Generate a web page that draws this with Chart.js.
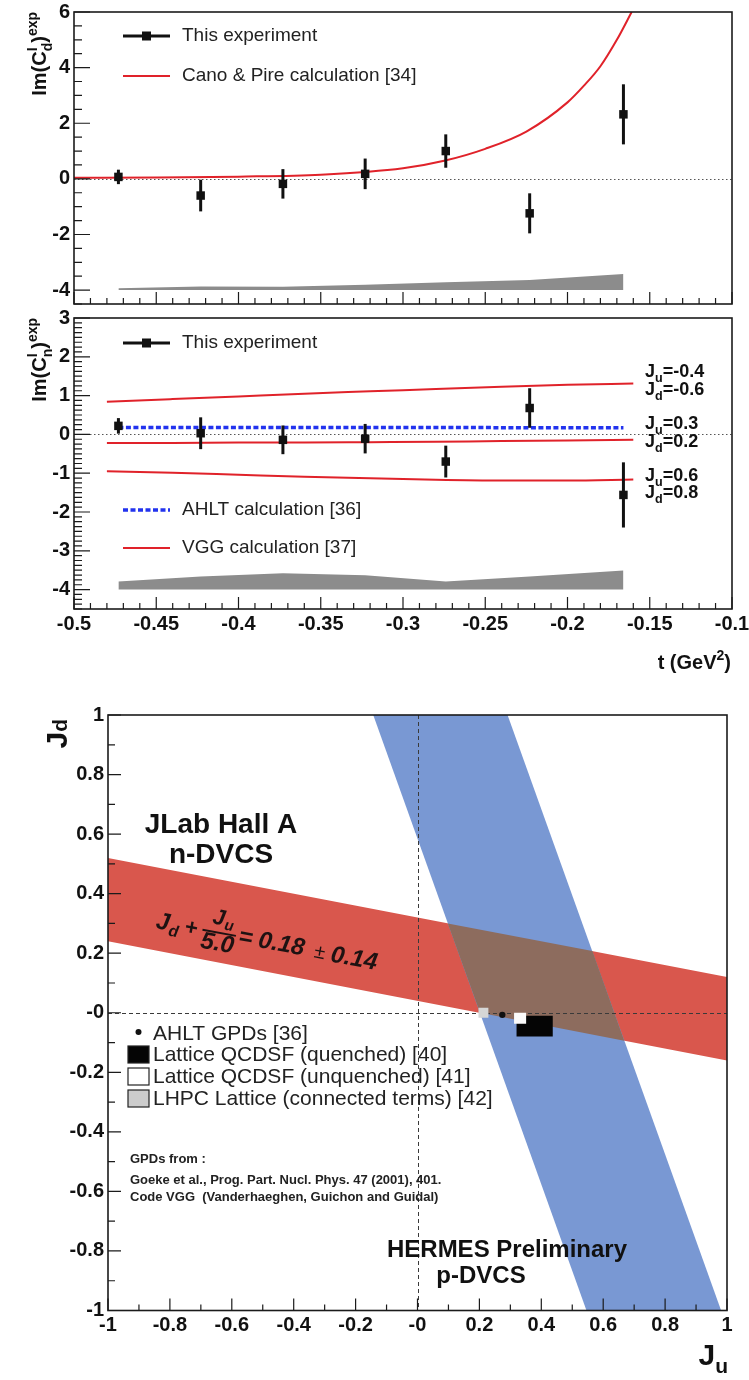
<!DOCTYPE html>
<html>
<head>
<meta charset="utf-8">
<script src="https://cdn.jsdelivr.net/npm/chart.js@4.4.0/dist/chart.umd.min.js"></script>
<style>
  html, body { margin: 0; padding: 0; background: #fff; }
  #wrap { position: relative; width: 749px; height: 1380px; overflow: hidden; }
  #wrap canvas { position: absolute; left: 0; }
</style>
</head>
<body>
<div id="wrap">
  <canvas id="cd" width="749" height="312" style="top:0px"></canvas>
  <canvas id="cn" width="749" height="404" style="top:296px"></canvas>
  <canvas id="jj" width="749" height="690" style="top:690px"></canvas>
</div>
<script>
// ---- data ----
// t bins (GeV^2), shared by both asymmetry panels
const tBins = [-0.473, -0.423, -0.373, -0.323, -0.274, -0.223, -0.166];

// deuteron Im(C_d^I)
const cdVal = [0.07, -0.60, -0.18, 0.18, 1.00, -1.24, 2.32];
const cdErr = [0.26, 0.57, 0.53, 0.55, 0.60, 0.72, 1.08];
const cdSyst = [-3.93, -3.87, -3.88, -3.81, -3.72, -3.64, -3.42];
const canoT = [-0.50, -0.45, -0.40, -0.35, -0.30, -0.275, -0.25, -0.225, -0.20, -0.19, -0.18, -0.17, -0.161];
const canoVal = [0.04, 0.05, 0.08, 0.15, 0.38, 0.65, 1.08, 1.70, 2.75, 3.35, 4.05, 5.00, 6.00];

// neutron Im(C_n^I)
const cnVal = [0.22, 0.03, -0.14, -0.11, -0.70, 0.68, -1.56];
const cnErr = [0.20, 0.41, 0.37, 0.38, 0.41, 0.51, 0.84];
const cnSyst = [-3.79, -3.66, -3.58, -3.63, -3.79, -3.66, -3.51];
const ahltVal = [0.18, 0.18, 0.18, 0.18, 0.18, 0.17, 0.17];
const vggT = [-0.48, -0.44, -0.40, -0.36, -0.32, -0.28, -0.24, -0.20, -0.16];
const vggA = [0.84, 0.91, 0.98, 1.05, 1.11, 1.17, 1.23, 1.28, 1.31];          // Ju=-0.4 Jd=-0.6
const vggB = [-0.22, -0.22, -0.21, -0.21, -0.20, -0.19, -0.17, -0.16, -0.14]; // Ju=0.3 Jd=0.2
const vggC = [-0.95, -0.99, -1.04, -1.09, -1.13, -1.17, -1.19, -1.19, -1.16]; // Ju=0.6 Jd=0.8

// Ju - Jd plane
const redBandJu = [-1, 1, 1, -1];
const redBandJd = [0.52, 0.12, -0.16, 0.24];
const hermesJu = [-0.143, 0.291, 0.981, 0.546];
const hermesJd = [1, 1, -1, -1];
const overlapJu = [0.098, 0.565, 0.668, 0.202];
const overlapJd = [0.300, 0.207, -0.094, 0.000];
const qcdsfQJu = [0.320, 0.437, 0.437, 0.320];
const qcdsfQJd = [-0.010, -0.010, -0.080, -0.080];
const qcdsfUJu = [0.312, 0.351, 0.351, 0.312];
const qcdsfUJd = [0.000, 0.000, -0.037, -0.037];
const lhpcJu = [0.213];
const lhpcJd = [0.0];
const ahltJu = [0.274];
const ahltJd = [-0.007];

// tick labels
const tTicks = [-0.5, -0.45, -0.4, -0.35, -0.3, -0.25, -0.2, -0.15, -0.1];
const tTickLabels = ['-0.5', '-0.45', '-0.4', '-0.35', '-0.3', '-0.25', '-0.2', '-0.15', '-0.1'];
const cdTicks = [-4, -2, 0, 2, 4, 6];
const cnTicks = [-4, -3, -2, -1, 0, 1, 2, 3];
const jTicks = [-1, -0.8, -0.6, -0.4, -0.2, 0, 0.2, 0.4, 0.6, 0.8, 1];
const jTickLabels = ['-1', '-0.8', '-0.6', '-0.4', '-0.2', '-0', '0.2', '0.4', '0.6', '0.8', '1'];

// ---- helpers ----
const FONT = '"Liberation Sans", Arial, Helvetica, sans-serif';
Chart.defaults.font.family = FONT;
Chart.defaults.color = '#111';

function pts(xs, ys) { return xs.map((x, i) => ({x: x, y: ys[i]})); }
function range(a, b, step) {
  const out = [];
  const n = Math.round((b - a) / step);
  for (let i = 0; i <= n; i++) out.push(+(a + i * step).toFixed(5));
  return out;
}

function drawRich(ctx, it) {
  const size = it.size;
  const subDy = it.subDy !== undefined ? it.subDy : 0.3;
  const fontFor = p => `${it.style || 'normal'} ${it.weight || 'bold'} ${p.s ? size * 0.7 : size}px ${FONT}`;
  let w = 0, pend = 0;
  for (const p of it.parts) {
    ctx.font = fontFor(p);
    const pw = ctx.measureText(p.t).width;
    if (p.stack) pend = pw; else { w += Math.max(pw, pend); pend = 0; }
  }
  ctx.save();
  ctx.translate(it.x, it.y);
  if (it.rot) ctx.rotate(it.rot * Math.PI / 180);
  ctx.fillStyle = it.color || '#111';
  ctx.textBaseline = 'alphabetic';
  ctx.textAlign = 'left';
  let cx = it.align === 'right' ? -w : it.align === 'center' ? -w / 2 : 0;
  pend = 0;
  for (const p of it.parts) {
    ctx.font = fontFor(p);
    const pw = ctx.measureText(p.t).width;
    const dy = p.s === 'sub' ? size * subDy : p.s === 'sup' ? -size * 0.45 : 0;
    ctx.fillText(p.t, cx, dy);
    if (p.stack) pend = pw; else { cx += Math.max(pw, pend); pend = 0; }
  }
  ctx.restore();
}

function drawPieces(ctx, g) {
  ctx.save();
  ctx.translate(g.x, g.y);
  ctx.rotate(g.rot * Math.PI / 180);
  ctx.fillStyle = g.color;
  ctx.strokeStyle = g.color;
  ctx.textBaseline = 'alphabetic';
  for (const p of g.items) {
    ctx.font = `${p.style || 'italic'} ${p.weight || 'bold'} ${p.size}px ${FONT}`;
    ctx.textAlign = p.align || 'left';
    ctx.fillText(p.t, p.x, p.y);
  }
  ctx.lineWidth = g.bar.w;
  ctx.beginPath();
  ctx.moveTo(g.bar.x0, g.bar.y);
  ctx.lineTo(g.bar.x1, g.bar.y);
  ctx.stroke();
  ctx.restore();
}

function drawRefs(chart, c) {
  const {ctx, chartArea: a, scales: {x, y}} = chart;
  ctx.save();
  ctx.beginPath();
  ctx.rect(a.left, a.top, a.right - a.left, a.bottom - a.top);
  ctx.clip();
  ctx.strokeStyle = c.refColor;
  ctx.lineWidth = 1;
  ctx.setLineDash(c.refDash);
  (c.refY || []).forEach(v => {
    const p = Math.round(y.getPixelForValue(v)) + 0.5;
    ctx.beginPath(); ctx.moveTo(a.left, p); ctx.lineTo(a.right, p); ctx.stroke();
  });
  (c.refX || []).forEach(v => {
    const p = Math.round(x.getPixelForValue(v)) + 0.5;
    ctx.beginPath(); ctx.moveTo(p, a.top); ctx.lineTo(p, a.bottom); ctx.stroke();
  });
  ctx.restore();
}

function drawErrors(chart, e) {
  const {ctx, scales: {x, y}} = chart;
  ctx.save();
  ctx.strokeStyle = '#111';
  ctx.lineWidth = 3;
  e.xs.forEach((xv, i) => {
    const px = x.getPixelForValue(xv);
    ctx.beginPath();
    ctx.moveTo(px, y.getPixelForValue(e.ys[i] - e.errs[i]));
    ctx.lineTo(px, y.getPixelForValue(e.ys[i] + e.errs[i]));
    ctx.stroke();
  });
  ctx.restore();
}

function drawAxes(chart, ax) {
  const {ctx, chartArea: a, scales: {x, y}} = chart;
  ctx.save();
  ctx.strokeStyle = '#1b1b1b';
  ctx.lineWidth = 1.2;
  ctx.beginPath();
  ax.xMinor.forEach(v => { const p = x.getPixelForValue(v); ctx.moveTo(p, a.bottom); ctx.lineTo(p, a.bottom - ax.xLen[1]); });
  ax.xMajor.forEach(v => { const p = x.getPixelForValue(v); ctx.moveTo(p, a.bottom); ctx.lineTo(p, a.bottom - ax.xLen[0]); });
  ax.yMinor.forEach(v => { const p = y.getPixelForValue(v); ctx.moveTo(a.left, p); ctx.lineTo(a.left + ax.yLen[1], p); });
  ax.yMajor.forEach(v => { const p = y.getPixelForValue(v); ctx.moveTo(a.left, p); ctx.lineTo(a.left + ax.yLen[0], p); });
  ctx.stroke();
  ctx.lineWidth = 1.6;
  ctx.strokeRect(a.left, a.top, a.right - a.left, a.bottom - a.top);
  ctx.restore();
}

function drawLegendItem(ctx, it) {
  ctx.save();
  if (it.kind === 'exp') {
    ctx.strokeStyle = '#111'; ctx.lineWidth = 3;
    ctx.beginPath(); ctx.moveTo(it.x, it.y); ctx.lineTo(it.x + 47, it.y); ctx.stroke();
    ctx.fillStyle = '#111'; ctx.fillRect(it.x + 19, it.y - 4.5, 9, 9);
  } else if (it.kind === 'line') {
    ctx.strokeStyle = it.color; ctx.lineWidth = it.width || 2;
    ctx.setLineDash(it.dash || []);
    ctx.beginPath(); ctx.moveTo(it.x, it.y); ctx.lineTo(it.x + 47, it.y); ctx.stroke();
  } else if (it.kind === 'dot') {
    ctx.fillStyle = '#111';
    ctx.beginPath(); ctx.arc(it.x, it.y, 3, 0, Math.PI * 2); ctx.fill();
  } else if (it.kind === 'box') {
    ctx.fillStyle = it.fill; ctx.fillRect(it.x, it.y, 21, 17);
    ctx.strokeStyle = '#222'; ctx.lineWidth = 1.2; ctx.strokeRect(it.x, it.y, 21, 17);
  }
  ctx.fillStyle = '#222';
  ctx.font = `${it.size}px ${FONT}`;
  ctx.textBaseline = 'middle';
  ctx.textAlign = 'left';
  ctx.fillText(it.text, it.tx, it.ty);
  ctx.restore();
}

function makeRoot(c) {
  return {
    id: 'root',
    beforeDatasetsDraw(chart) {
      chart.$refDone = false;
      if (c.refUnder) { drawRefs(chart, c); chart.$refDone = true; }
    },
    beforeDatasetDraw(chart, args) {
      const ds = chart.data.datasets[args.index];
      if (!chart.$refDone && ds.markerLayer) { drawRefs(chart, c); chart.$refDone = true; }
    },
    afterDatasetsDraw(chart) {
      if (c.errors) drawErrors(chart, c.errors);
    },
    afterDraw(chart) {
      drawAxes(chart, c.axes);
      (c.legend || []).forEach(it => drawLegendItem(chart.ctx, it));
      (c.texts || []).forEach(it => drawRich(chart.ctx, it));
      if (c.pieces) drawPieces(chart.ctx, c.pieces);
    }
  };
}

function yAxis(min, max, ticks, labels, width) {
  return {
    type: 'linear', min: min, max: max,
    grid: {display: false, drawTicks: false}, border: {display: false},
    afterBuildTicks: s => { s.ticks = ticks.map(v => ({value: v})); },
    afterFit: s => { s.width = width; s.paddingTop = 0; s.paddingBottom = 0; },
    ticks: {
      font: {size: 20, weight: 'bold'}, color: '#111', padding: 4, autoSkip: false,
      callback: (v, i) => labels ? labels[i] : String(v)
    }
  };
}
function xAxis(min, max, ticks, labels, height) {
  return {
    type: 'linear', min: min, max: max,
    grid: {display: false, drawTicks: false}, border: {display: false},
    afterBuildTicks: s => { s.ticks = ticks.map(v => ({value: v})); },
    afterFit: s => { s.height = height; s.paddingLeft = 0; s.paddingRight = 0; },
    ticks: {
      font: {size: 20, weight: 'bold'}, color: '#111', padding: 3, autoSkip: false, maxRotation: 0,
      callback: (v, i) => labels[i]
    }
  };
}
const base = { responsive: false, animation: false, events: [],
  plugins: { legend: {display: false}, tooltip: {enabled: false} } };

const RED = '#e0222a';

// ---- deuteron panel ----
new Chart(document.getElementById('cd'), {
  type: 'scatter',
  data: { datasets: [
    { data: pts(tBins, cdVal), pointStyle: 'rect', pointRadius: 6, backgroundColor: '#111', borderColor: '#111', borderWidth: 0, order: 1 },
    { data: pts(canoT, canoVal), showLine: true, borderColor: RED, borderWidth: 2, pointRadius: 0, cubicInterpolationMode: 'monotone', order: 2 },
    { data: pts(tBins, cdSyst), showLine: true, fill: {value: -4}, backgroundColor: '#8c8c8c', borderColor: 'rgba(0,0,0,0)', borderWidth: 0, pointRadius: 0, order: 5 }
  ]},
  options: Object.assign({}, base, {
    layout: { padding: {top: 12, right: 17, bottom: 8, left: 0} },
    scales: {
      x: { type: 'linear', min: -0.5, max: -0.1, display: false },
      y: yAxis(-4.5, 6, cdTicks, null, 74)
    }
  }),
  plugins: [makeRoot({
    refUnder: true, refY: [0], refDash: [1.5, 2.5], refColor: '#555',
    errors: {xs: tBins, ys: cdVal, errs: cdErr},
    axes: { xMajor: tTicks, xMinor: range(-0.5, -0.1, 0.01), xLen: [12, 6],
            yMajor: cdTicks, yMinor: range(-4.5, 6, 0.5), yLen: [16, 8] },
    legend: [
      {kind: 'exp', x: 123, y: 36, text: 'This experiment', tx: 182, ty: 36, size: 19},
      {kind: 'line', color: RED, x: 123, y: 76, text: 'Cano & Pire calculation [34]', tx: 182, ty: 76, size: 19}
    ],
    texts: [
      {x: 46, y: 12, rot: -90, align: 'right', size: 20,
       parts: [{t: 'Im(C'}, {t: 'I', s: 'sup', stack: true}, {t: 'd', s: 'sub'}, {t: ')'}, {t: 'exp', s: 'sup'}]}
    ]
  })]
});

// ---- neutron panel ----
new Chart(document.getElementById('cn'), {
  type: 'scatter',
  data: { datasets: [
    { data: pts(tBins, cnVal), pointStyle: 'rect', pointRadius: 6, backgroundColor: '#111', borderColor: '#111', borderWidth: 0, order: 1 },
    { data: pts(tBins, ahltVal), showLine: true, borderColor: '#2233ee', borderWidth: 3.5, borderDash: [5, 2.5], pointRadius: 0, order: 2 },
    { data: pts(vggT, vggA), showLine: true, borderColor: RED, borderWidth: 2, pointRadius: 0, cubicInterpolationMode: 'monotone', order: 3 },
    { data: pts(vggT, vggB), showLine: true, borderColor: RED, borderWidth: 2, pointRadius: 0, cubicInterpolationMode: 'monotone', order: 3 },
    { data: pts(vggT, vggC), showLine: true, borderColor: RED, borderWidth: 2, pointRadius: 0, cubicInterpolationMode: 'monotone', order: 3 },
    { data: pts(tBins, cnSyst), showLine: true, fill: {value: -4}, backgroundColor: '#8c8c8c', borderColor: 'rgba(0,0,0,0)', borderWidth: 0, pointRadius: 0, order: 5 }
  ]},
  options: Object.assign({}, base, {
    layout: { padding: {top: 22, right: 17, bottom: 0, left: 0} },
    scales: {
      x: xAxis(-0.5, -0.1, tTicks, tTickLabels, 91),
      y: yAxis(-4.5, 3, cnTicks, null, 74)
    }
  }),
  plugins: [makeRoot({
    refUnder: true, refY: [0], refDash: [1.5, 2.5], refColor: '#555',
    errors: {xs: tBins, ys: cnVal, errs: cnErr},
    axes: { xMajor: tTicks, xMinor: range(-0.5, -0.1, 0.01), xLen: [12, 6],
            yMajor: cnTicks, yMinor: range(-4.5, 3, 0.125), yLen: [16, 8] },
    legend: [
      {kind: 'exp', x: 123, y: 47, text: 'This experiment', tx: 182, ty: 47, size: 19},
      {kind: 'line', color: '#2233ee', width: 3.5, dash: [5, 2.5], x: 123, y: 214, text: 'AHLT calculation [36]', tx: 182, ty: 214, size: 19},
      {kind: 'line', color: RED, x: 123, y: 252, text: 'VGG calculation [37]', tx: 182, ty: 252, size: 19}
    ],
    texts: [
      {x: 46, y: 22, rot: -90, align: 'right', size: 20,
       parts: [{t: 'Im(C'}, {t: 'I', s: 'sup', stack: true}, {t: 'n', s: 'sub'}, {t: ')'}, {t: 'exp', s: 'sup'}]},
      {x: 731, y: 373, align: 'right', size: 20, parts: [{t: 't (GeV'}, {t: '2', s: 'sup'}, {t: ')'}]},
      {x: 645, y: 81, size: 18, parts: [{t: 'J'}, {t: 'u', s: 'sub'}, {t: '=-0.4'}]},
      {x: 645, y: 99, size: 18, parts: [{t: 'J'}, {t: 'd', s: 'sub'}, {t: '=-0.6'}]},
      {x: 645, y: 133, size: 18, parts: [{t: 'J'}, {t: 'u', s: 'sub'}, {t: '=0.3'}]},
      {x: 645, y: 151, size: 18, parts: [{t: 'J'}, {t: 'd', s: 'sub'}, {t: '=0.2'}]},
      {x: 645, y: 185, size: 18, parts: [{t: 'J'}, {t: 'u', s: 'sub'}, {t: '=0.6'}]},
      {x: 645, y: 202, size: 18, parts: [{t: 'J'}, {t: 'd', s: 'sub'}, {t: '=0.8'}]}
    ]
  })]
});

// ---- Ju / Jd constraint plane ----
const shape = (xs, ys, color, order) => ({
  data: pts(xs, ys), showLine: true, fill: 'shape', backgroundColor: color,
  borderColor: 'rgba(0,0,0,0)', borderWidth: 0, pointRadius: 0, order: order
});
const qBox = shape(qcdsfQJu, qcdsfQJd, '#050505', 4); qBox.markerLayer = true;
const uBox = shape(qcdsfUJu, qcdsfUJd, '#fbfbfb', 3); uBox.markerLayer = true;

new Chart(document.getElementById('jj'), {
  type: 'scatter',
  data: { datasets: [
    shape(redBandJu, redBandJd, '#d9574d', 10),
    shape(hermesJu, hermesJd, '#7998d3', 9),
    shape(overlapJu, overlapJd, '#8d6c5e', 8),
    qBox,
    uBox,
    { data: pts(lhpcJu, lhpcJd), pointStyle: 'rect', pointRadius: 7, backgroundColor: '#d6d6d6', borderWidth: 0, order: 2, markerLayer: true },
    { data: pts(ahltJu, ahltJd), pointStyle: 'circle', pointRadius: 3.2, backgroundColor: '#111', borderWidth: 0, order: 1, markerLayer: true }
  ]},
  options: Object.assign({}, base, {
    layout: { padding: {top: 25, right: 22, bottom: 0, left: 0} },
    scales: {
      x: xAxis(-1, 1, jTicks, jTickLabels, 69.5),
      y: yAxis(-1, 1, jTicks, jTickLabels, 108)
    }
  }),
  plugins: [makeRoot({
    refUnder: false, refX: [0], refY: [0], refDash: [4, 3], refColor: '#3a3a3a',
    axes: { xMajor: jTicks, xMinor: range(-1, 1, 0.1), xLen: [12, 6],
            yMajor: jTicks, yMinor: range(-1, 1, 0.1), yLen: [13, 7] },
    legend: [
      {kind: 'dot', x: 138.5, y: 342, text: 'AHLT GPDs [36]', tx: 153, ty: 344, size: 21},
      {kind: 'box', fill: '#050505', x: 128, y: 356, text: 'Lattice QCDSF (quenched) [40]', tx: 153, ty: 365, size: 21},
      {kind: 'box', fill: '#ffffff', x: 128, y: 378, text: 'Lattice QCDSF (unquenched) [41]', tx: 153, ty: 387, size: 21},
      {kind: 'box', fill: '#cccccc', x: 128, y: 400, text: 'LHPC Lattice (connected terms) [42]', tx: 153, ty: 409, size: 21}
    ],
    texts: [
      {x: 67, y: 29, rot: -90, align: 'right', size: 30, subDy: 0, parts: [{t: 'J'}, {t: 'd', s: 'sub'}]},
      {x: 728, y: 675, align: 'right', size: 30, subDy: 0.27, parts: [{t: 'J'}, {t: 'u', s: 'sub'}]},
      {x: 221, y: 143, align: 'center', size: 28, parts: [{t: 'JLab Hall A'}]},
      {x: 221, y: 173, align: 'center', size: 28, parts: [{t: 'n-DVCS'}]},
      {x: 507, y: 567, align: 'center', size: 24, parts: [{t: 'HERMES Preliminary'}]},
      {x: 481, y: 593, align: 'center', size: 24, parts: [{t: 'p-DVCS'}]},
      {x: 130, y: 473, size: 13, color: '#222', parts: [{t: 'GPDs from :'}]},
      {x: 130, y: 494, size: 13, color: '#222', parts: [{t: 'Goeke et al., Prog. Part. Nucl. Phys. 47 (2001), 401.'}]},
      {x: 130, y: 511, size: 13, color: '#222', parts: [{t: 'Code VGG  (Vanderhaeghen, Guichon and Guidal)'}]}
    ],
    pieces: { x: 155, y: 238, rot: 10.5, color: '#1e1212',
      items: [
        {t: 'J', x: 0, y: 0, size: 24},
        {t: 'd', x: 14, y: 5, size: 16},
        {t: '+', x: 29, y: 0, size: 22},
        {t: 'J', x: 55, y: -15, size: 22},
        {t: 'u', x: 68, y: -11, size: 15},
        {t: '5.0', x: 64, y: 11, size: 24, align: 'center'},
        {t: '=', x: 84, y: 0, size: 24},
        {t: '0.18', x: 104, y: 0, size: 24},
        {t: '\u00b1', x: 161, y: 0, size: 20, style: 'normal', weight: 'normal'},
        {t: '0.14', x: 178, y: 1, size: 24}
      ],
      bar: {x0: 47, x1: 81, y: -7, w: 2} }
  })]
});
</script>
</body>
</html>
